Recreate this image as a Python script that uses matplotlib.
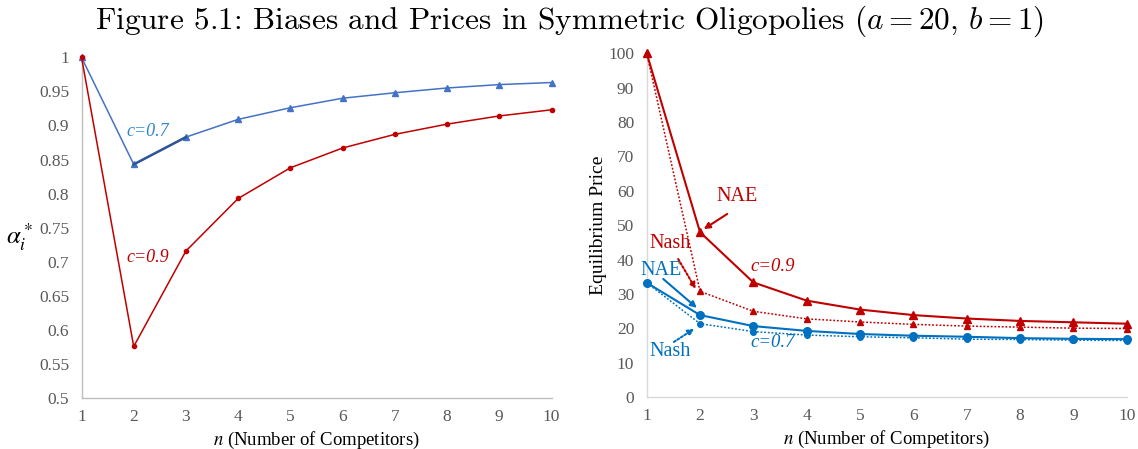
import matplotlib
matplotlib.use("Agg")
import matplotlib.pyplot as plt
import numpy as np

# ---- data ----
n = [1, 2, 3, 4, 5, 6, 7, 8, 9, 10]
alpha_c07 = [1.0, 0.843, 0.883, 0.909, 0.926, 0.940, 0.948, 0.955, 0.960, 0.963]
alpha_c09 = [1.0, 0.576, 0.716, 0.793, 0.838, 0.867, 0.887, 0.902, 0.914, 0.923]

price_nae_c09 = [100.0, 48.0, 33.4, 28.1, 25.5, 23.9, 22.9, 22.2, 21.8, 21.4]
price_nash_c09 = [100.0, 30.8, 25.0, 22.8, 21.9, 21.2, 20.7, 20.4, 20.1, 20.0]
price_nae_c07 = [33.3, 23.9, 20.7, 19.3, 18.4, 17.9, 17.6, 17.2, 17.0, 16.9]
price_nash_c07 = [33.3, 21.4, 19.1, 18.1, 17.6, 17.3, 16.9, 16.8, 16.6, 16.5]

left_yticks = [0.5, 0.55, 0.6, 0.65, 0.7, 0.75, 0.8, 0.85, 0.9, 0.95, 1.0]
left_yticklabels = ["0.5", "0.55", "0.6", "0.65", "0.7", "0.75", "0.8", "0.85", "0.9", "0.95", "1"]
right_yticks = [0, 10, 20, 30, 40, 50, 60, 70, 80, 90, 100]

title = "Figure 5.1: Biases and Prices in Symmetric Oligopolies ($a = 20$, $b = 1$)"

# ---- style ----
SERIF = "Liberation Serif"
RED = "#C00000"
BLUE_L = "#4472C4"
BLUE_R = "#0070C0"
TICK_COLOR = "#595959"

W, H = 1138, 449
fig = plt.figure(figsize=(W / 100, H / 100), dpi=100)


def px_axes(x0, x1, y0, y1):
    return fig.add_axes([x0 / W, 1 - y1 / H, (x1 - x0) / W, (y1 - y0) / H])


def style(ax, spine_color):
    for s in ["top", "right"]:
        ax.spines[s].set_visible(False)
    for s in ["left", "bottom"]:
        ax.spines[s].set_color(spine_color)
        ax.spines[s].set_linewidth(1.0)
    ax.tick_params(length=0, colors=TICK_COLOR, labelsize=12.5)
    ax.tick_params(axis="y", pad=9)
    ax.tick_params(axis="x", pad=8)
    for lab in ax.get_xticklabels() + ax.get_yticklabels():
        lab.set_fontfamily(SERIF)
    ax.set_xticks(n)
    ax.set_xticklabels([str(v) for v in n], fontfamily=SERIF)


# ---- left panel ----
axL = px_axes(81.5, 551.5, 57.3, 398.3)
axL.set_xlim(1, 10)
axL.set_ylim(0.5, 1.0)
axL.plot(n, alpha_c07, color=BLUE_L, lw=1.1, marker="^", ms=4, clip_on=False, zorder=3)
axL.plot(n[1:3], alpha_c07[1:3], color="#2F5597", lw=1.8, zorder=3, clip_on=False)
axL.plot(n, alpha_c09, color=RED, lw=1.1, marker="o", ms=3, clip_on=False, zorder=3)
axL.set_yticks(left_yticks)
axL.set_yticklabels(left_yticklabels, fontfamily=SERIF)
style(axL, "#BFBFBF")
axL.text(2.27, 0.891, "c=0.7", color="#2E86D1", fontsize=13, style="italic",
         fontfamily=SERIF, ha="center", va="center")
axL.text(2.27, 0.707, "c=0.9", color=RED, fontsize=13, style="italic",
         fontfamily=SERIF, ha="center", va="center")
fig.text(20 / W, 1 - 237 / H, r"$\alpha_i^*$", fontsize=18, ha="center", va="center",
         math_fontfamily="stix")
axL.set_xlabel(r"$n$ (Number of Competitors)", fontsize=13.5, fontfamily=SERIF,
               math_fontfamily="stix", labelpad=3)

# ---- right panel ----
axR = px_axes(646.7, 1126.7, 53.3, 397.3)
axR.set_xlim(1, 10)
axR.set_ylim(0, 100)
axR.plot(n, price_nash_c09, color=RED, lw=1.1, ls=(0, (1.2, 1.2)), marker="^", ms=4,
         clip_on=False, zorder=3)
axR.plot(n, price_nae_c09, color=RED, lw=1.5, marker="^", ms=5.5, clip_on=False, zorder=4)
axR.plot(n, price_nash_c07, color=BLUE_R, lw=1.1, ls=(0, (1.2, 1.2)), marker="o", ms=4,
         clip_on=False, zorder=3)
axR.plot(n, price_nae_c07, color=BLUE_R, lw=1.5, marker="o", ms=5.5, clip_on=False, zorder=4)
axR.set_yticks(right_yticks)
axR.set_yticklabels([str(v) for v in right_yticks], fontfamily=SERIF)
style(axR, "#D9D9D9")
axR.set_ylabel("Equilibrium Price", fontsize=14, fontfamily=SERIF, labelpad=1)
axR.set_xlabel(r"$n$ (Number of Competitors)", fontsize=13.5, fontfamily=SERIF,
               math_fontfamily="stix", labelpad=3)

txt_kw = dict(fontfamily=SERIF, ha="center", va="center")
axR.text(2.69, 58.3, "NAE", color=RED, fontsize=14.5, **txt_kw)
axR.text(1.44, 44.6, "Nash", color=RED, fontsize=14.5, **txt_kw)
axR.text(1.27, 37.0, "NAE", color=BLUE_R, fontsize=14.5, **txt_kw)
axR.text(1.44, 13.2, "Nash", color=BLUE_R, fontsize=14.5, **txt_kw)
axR.text(3.37, 37.9, "c=0.9", color=RED, style="italic", fontsize=13.5, **txt_kw)
axR.text(3.37, 15.8, "c=0.7", color=BLUE_R, style="italic", fontsize=13.5, **txt_kw)

arr_solid = dict(arrowstyle="-|>", lw=1.5, mutation_scale=9, shrinkA=0, shrinkB=0)
arr_dot = dict(arrowstyle="-|>", lw=1.5, ls=(0, (1, 1)), mutation_scale=9, shrinkA=0, shrinkB=0)
axR.annotate("", xy=(2.07, 48.9), xytext=(2.51, 53.3), arrowprops=dict(color=RED, **arr_solid))
axR.annotate("", xy=(1.92, 31.5), xytext=(1.59, 40.2), arrowprops=dict(color=RED, **arr_dot))
axR.annotate("", xy=(1.94, 26.0), xytext=(1.31, 34.4), arrowprops=dict(color=BLUE_R, **arr_solid))
axR.annotate("", xy=(1.89, 19.9), xytext=(1.51, 16.1), arrowprops=dict(color=BLUE_R, **arr_dot))

# ---- title ----
fig.text(0.5, 1 - 21 / H, title, fontsize=22.5, ha="center", va="center",
         fontfamily="cmr10", math_fontfamily="cm")

fig.savefig("out.png", dpi=100)
